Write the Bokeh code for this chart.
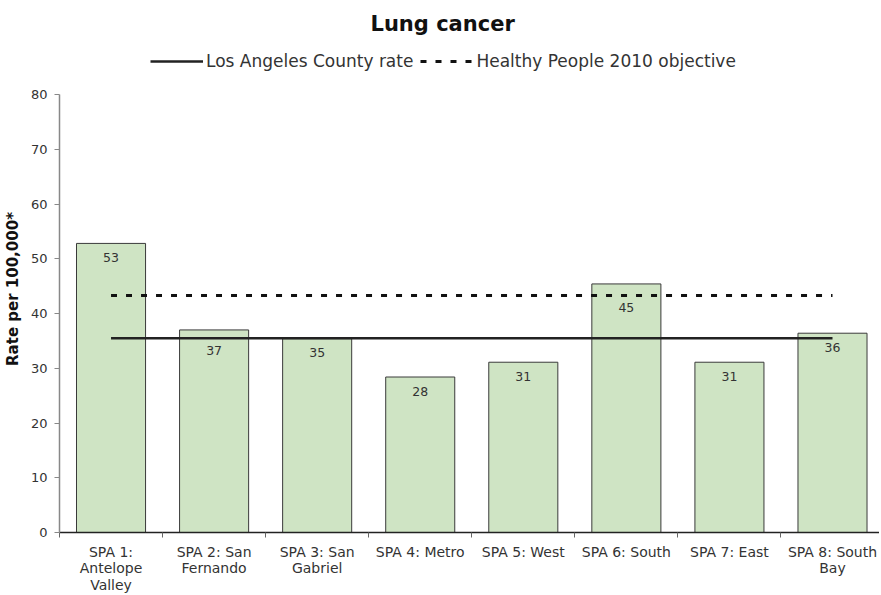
from bokeh.plotting import figure
from bokeh.models import (Range1d, FixedTicker, LinearAxis, Legend, LegendItem,
                          ColumnDataSource, Title)
from bokeh.embed import file_html
from bokeh.resources import INLINE

categories = ["SPA 1:\nAntelope\nValley", "SPA 2: San\nFernando", "SPA 3: San\nGabriel",
              "SPA 4: Metro", "SPA 5: West", "SPA 6: South", "SPA 7: East",
              "SPA 8: South\nBay"]
rates = [52.8, 37.0, 35.4, 28.4, 31.1, 45.4, 31.1, 36.4]
county_rate = 35.5
hp2010_objective = 43.3
y_ticks = [0, 10, 20, 30, 40, 50, 60, 70, 80]

FONT = "DejaVu Sans"
idx = list(range(len(categories)))
FRAME_H = 487
Y_MAX = 88.95
px = Y_MAX / FRAME_H  # data units per pixel

# label placement: inside bar top; pushed below a reference line if they collide
label_y = []
for v in rates:
    yc = v - 14 * px
    for ref in (county_rate, hp2010_objective):
        if abs(yc - ref) < 9 * px:
            yc = ref - 12 * px
    label_y.append(yc)

p = figure(frame_width=820, frame_height=FRAME_H, output_backend="svg", toolbar_location=None,
           x_range=Range1d(-0.5, 7.456), y_range=Range1d(0, Y_MAX),
           min_border_left=0, min_border_right=0, min_border_top=37, min_border_bottom=0)
p.title = Title(text="Lung cancer", align="left", offset=311, standoff=19,
                text_font=FONT, text_font_size="21px", text_font_style="bold",
                text_color="#111111")
p.xgrid.visible = False
p.ygrid.visible = False
p.outline_line_color = None

src = ColumnDataSource(dict(x=idx, top=rates, ly=label_y,
                            lbl=[str(int(round(v))) for v in rates]))
p.vbar(x="x", top="top", width=0.67, source=src, fill_color="#cfe4c4",
       line_color="#3a3a3a", line_width=1)

r1 = p.line(x=idx, y=[county_rate] * len(idx), line_color="#222222", line_width=2.5)
r2 = p.line(x=idx, y=[hp2010_objective] * len(idx), line_color="#111111",
            line_width=3, line_dash="6 9")

p.text(x="x", y="ly", text="lbl", source=src, text_align="center",
       text_baseline="middle", text_font_size="12.5px",
       text_color="#333333", text_font={"value": FONT})

legend = Legend(items=[LegendItem(label="Los Angeles County rate", renderers=[r1]),
                       LegendItem(label="Healthy People 2010 objective", renderers=[r2])],
                orientation="horizontal", location=(91, 461),
                label_text_font=FONT, label_text_font_size="17px",
                label_text_color="#333333", glyph_width=53, border_line_color=None,
                background_fill_alpha=0,
                spacing=7, padding=0, margin=0, label_standoff=3)
p.add_layout(legend)

# y axis
ya = p.yaxis[0]
ya.ticker = FixedTicker(ticks=y_ticks)
ya.bounds = (0, 80)
ya.axis_label = "Rate per 100,000*"
ya.axis_label_text_font = FONT
ya.axis_label_text_font_style = "bold"
ya.axis_label_text_font_size = "15px"
ya.axis_label_text_color = "#111111"
ya.axis_label_standoff = 6
ya.major_label_standoff = 7
ya.major_label_text_font = FONT
ya.major_label_text_font_size = "13px"
ya.major_label_text_color = "#333333"
ya.axis_line_color = "#888888"
ya.axis_line_width = 1.5
ya.major_tick_line_color = "#888888"
ya.major_tick_in = 0
ya.major_tick_out = 5
ya.minor_tick_line_color = None

# x axis with boundary ticks
xa = p.xaxis[0]
xa.ticker = FixedTicker(ticks=[i - 0.5 for i in range(len(categories) + 1)])
xa.major_label_text_alpha = 0
xa.major_label_text_font_size = "1px"
xa.major_label_standoff = 0
xa.axis_line_color = "#222222"
xa.axis_line_width = 1.5
xa.major_tick_line_color = "#666666"
xa.major_tick_in = 0
xa.major_tick_out = 5
xa.minor_tick_line_color = None

# label axis
xl = LinearAxis(ticker=FixedTicker(ticks=idx),
                major_label_overrides={i: c for i, c in enumerate(categories)},
                major_label_text_font=FONT, major_label_text_font_size="14px",
                major_label_text_line_height=1.05,
                major_label_text_color="#333333", axis_line_color=None,
                major_tick_line_color=None, minor_tick_line_color=None,
                major_label_standoff=0)
p.add_layout(xl, "below")

open("out.html", "w").write(file_html(p, INLINE))
